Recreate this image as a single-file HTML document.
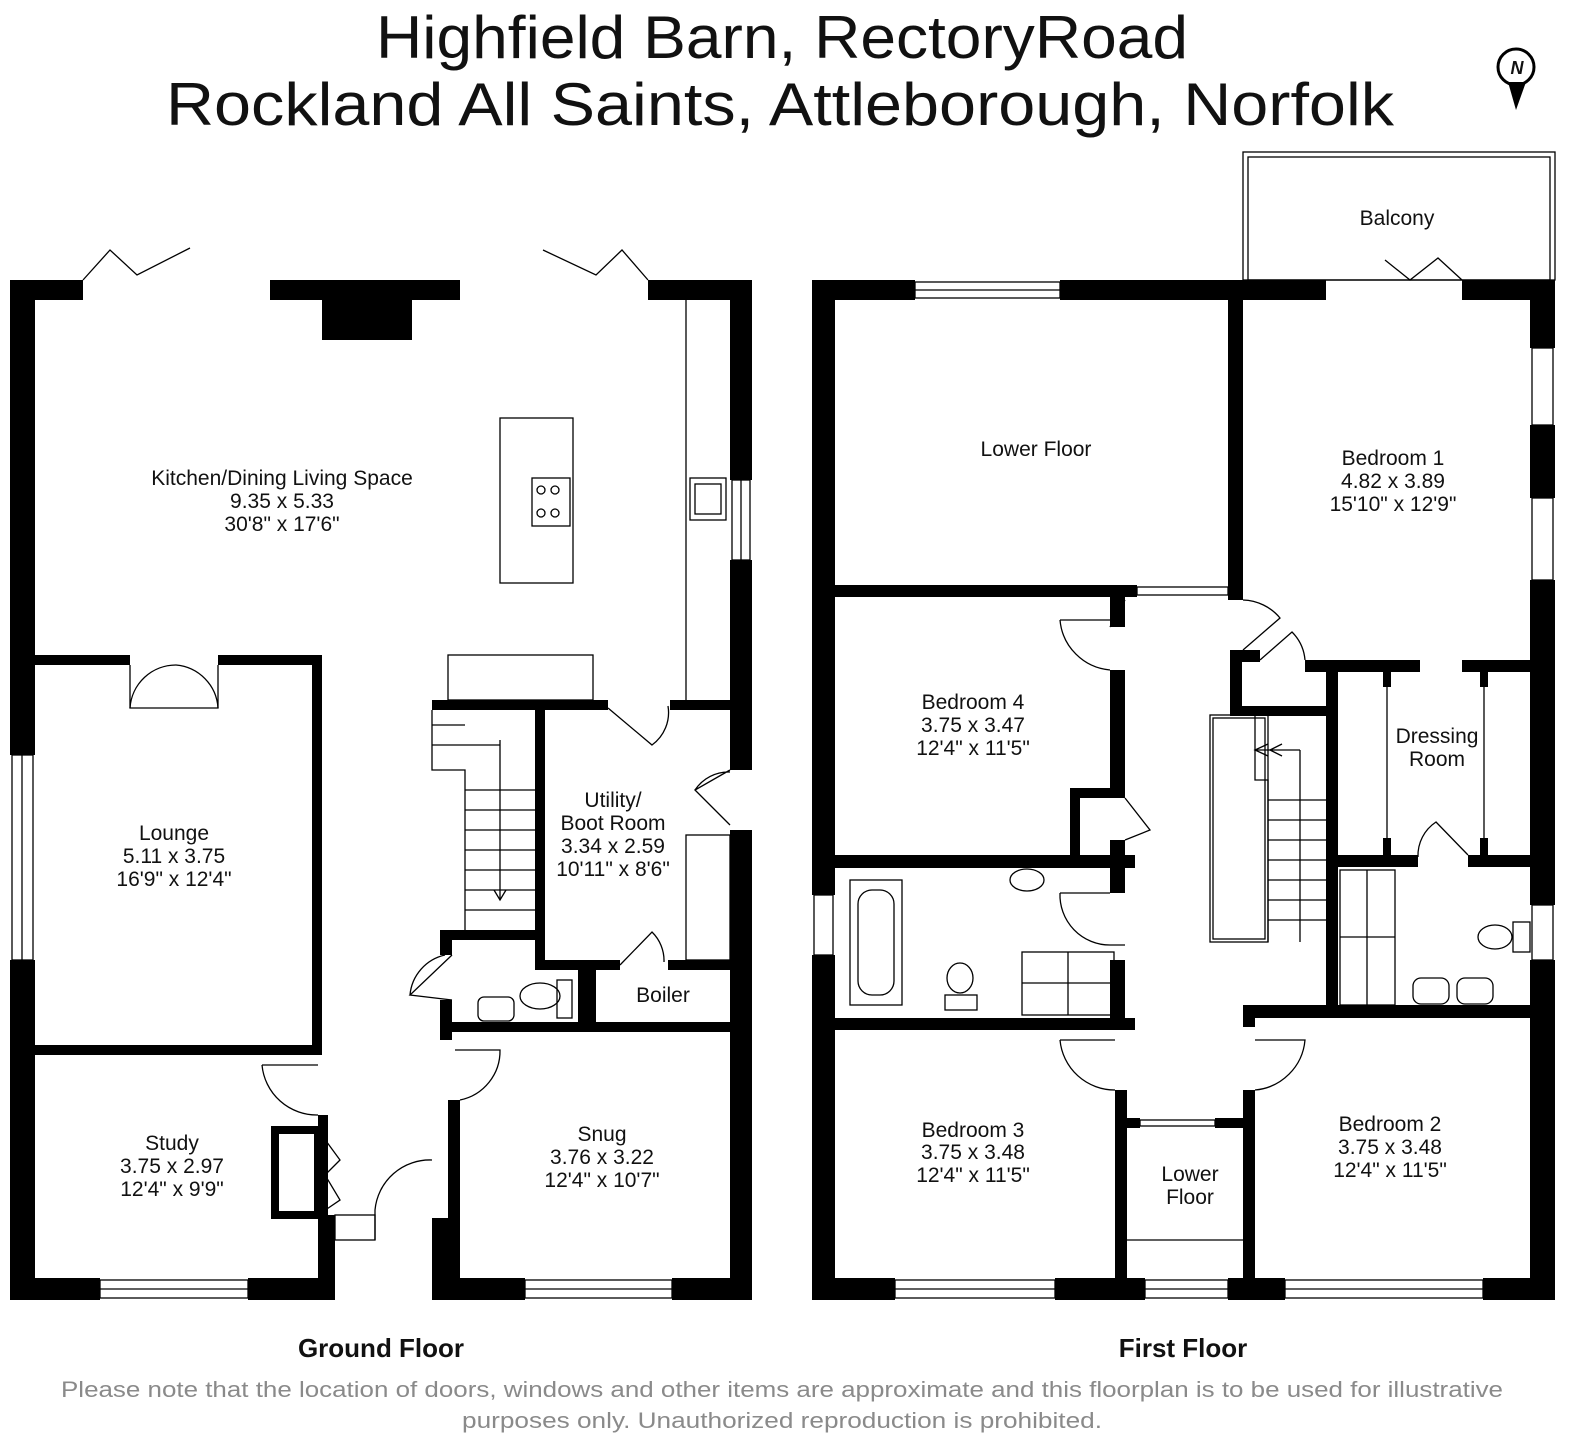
<!DOCTYPE html>
<html><head><meta charset="utf-8"><style>
body{margin:0;background:#fff}
svg{display:block}
text{font-family:"Liberation Sans",sans-serif;text-anchor:middle;fill:#111}
.r{font-size:21px}
</style></head><body>
<svg width="1584" height="1456" viewBox="0 0 1584 1456" xmlns="http://www.w3.org/2000/svg">
<rect width="1584" height="1456" fill="#fff"/>
<text x="782" y="58" font-size="60" textLength="812" lengthAdjust="spacingAndGlyphs">Highfield Barn, RectoryRoad</text>
<text x="780" y="125" font-size="60" textLength="1228" lengthAdjust="spacingAndGlyphs">Rockland All Saints, Attleborough, Norfolk</text>
<circle cx="1516" cy="67" r="18" fill="none" stroke="#000" stroke-width="3"/>
<path d="M1508 82 L1516 110 L1526 82 Z" fill="#000"/>
<text x="1517" y="74" font-size="18" font-weight="bold" font-style="italic">N</text>

<g fill="#000">
<rect x="10" y="280" width="73" height="20"/><rect x="270" y="280" width="190" height="20"/><rect x="322" y="300" width="90" height="40"/><rect x="648" y="280" width="104" height="20"/>
<rect x="10" y="280" width="25" height="475"/><rect x="10" y="960" width="25" height="340"/>
<rect x="730" y="280" width="22" height="200"/><rect x="730" y="560" width="22" height="210"/><rect x="730" y="830" width="22" height="470"/>
<rect x="10" y="1278" width="90" height="22"/><rect x="248" y="1278" width="87" height="22"/><rect x="432" y="1278" width="93" height="22"/><rect x="672" y="1278" width="80" height="22"/>
<rect x="10" y="655" width="120" height="10"/><rect x="218" y="655" width="104" height="10"/><rect x="312" y="655" width="10" height="400"/><rect x="10" y="1045" width="312" height="10"/>
<rect x="318" y="1115" width="10" height="100"/><rect x="318" y="1215" width="17" height="85"/>
<rect x="432" y="700" width="176" height="10"/><rect x="670" y="700" width="82" height="10"/>
<rect x="535" y="700" width="10" height="265"/><rect x="535" y="960" width="85" height="10"/><rect x="668" y="960" width="84" height="10"/>
<rect x="440" y="930" width="95" height="10"/><rect x="440" y="930" width="12" height="25"/><rect x="440" y="1000" width="12" height="40"/>
<rect x="440" y="1022" width="312" height="10"/><rect x="578" y="965" width="18" height="60"/>
<rect x="448" y="1100" width="12" height="180"/><rect x="432" y="1218" width="28" height="62"/>
<rect x="812" y="280" width="103" height="20"/><rect x="1060" y="280" width="266" height="20"/><rect x="1462" y="280" width="93" height="20"/>
<rect x="812" y="280" width="23" height="615"/><rect x="812" y="955" width="23" height="345"/>
<rect x="1530" y="280" width="25" height="68"/><rect x="1530" y="425" width="25" height="73"/><rect x="1530" y="580" width="25" height="325"/><rect x="1530" y="960" width="25" height="340"/>
<rect x="812" y="1278" width="83" height="22"/><rect x="1055" y="1278" width="90" height="22"/><rect x="1228" y="1278" width="57" height="22"/><rect x="1483" y="1278" width="72" height="22"/>
<rect x="1228" y="300" width="15" height="300"/><rect x="812" y="585" width="325" height="12"/><rect x="1228" y="585" width="15" height="12"/>
<rect x="1305" y="660" width="115" height="12"/><rect x="1462" y="660" width="93" height="12"/>
<rect x="1230" y="650" width="30" height="12"/><rect x="1230" y="650" width="12" height="62"/><rect x="1230" y="706" width="108" height="10"/>
<rect x="1326" y="660" width="12" height="350"/>
<rect x="1383" y="672" width="8" height="15"/><rect x="1383" y="838" width="8" height="20"/><rect x="1480" y="672" width="8" height="15"/><rect x="1480" y="838" width="8" height="20"/>
<rect x="1338" y="855" width="80" height="12"/><rect x="1468" y="855" width="87" height="12"/>
<rect x="1243" y="1005" width="312" height="13"/><rect x="1243" y="1005" width="12" height="22"/><rect x="1243" y="1090" width="12" height="190"/>
<rect x="1110" y="597" width="15" height="30"/><rect x="1110" y="670" width="15" height="120"/><rect x="1070" y="788" width="55" height="10"/><rect x="1070" y="788" width="10" height="70"/><rect x="1110" y="840" width="15" height="30"/>
<rect x="812" y="855" width="323" height="13"/><rect x="1110" y="868" width="15" height="25"/><rect x="1110" y="960" width="15" height="60"/>
<rect x="812" y="1018" width="323" height="12"/><rect x="1115" y="1090" width="12" height="190"/>
<rect x="1115" y="1118" width="25" height="10"/><rect x="1215" y="1118" width="28" height="10"/>
</g>

<g fill="none" stroke="#000" stroke-width="1.3">
<rect x="12" y="755" width="21" height="205"/><line x1="22" y1="755" x2="22" y2="960"/>
<rect x="732" y="480" width="18" height="80"/><line x1="741" y1="480" x2="741" y2="560"/>
<rect x="100" y="1280" width="148" height="18"/><line x1="100" y1="1289" x2="248" y2="1289"/>
<rect x="525" y="1280" width="147" height="18"/><line x1="525" y1="1289" x2="672" y2="1289"/>
<rect x="335" y="1215" width="40" height="25"/>
<rect x="915" y="282" width="145" height="16"/><line x1="915" y1="290" x2="1060" y2="290"/>
<rect x="1137" y="587" width="91" height="8"/>
<rect x="814" y="895" width="19" height="60"/>
<rect x="1532" y="348" width="21" height="77"/><rect x="1532" y="498" width="21" height="82"/><rect x="1532" y="905" width="21" height="55"/>
<rect x="895" y="1280" width="160" height="18"/><line x1="895" y1="1289" x2="1055" y2="1289"/>
<rect x="1145" y="1280" width="83" height="18"/><line x1="1145" y1="1289" x2="1228" y2="1289"/>
<rect x="1285" y="1280" width="198" height="18"/><line x1="1285" y1="1289" x2="1483" y2="1289"/>
<rect x="1140" y="1120" width="75" height="6"/>
<rect x="1243" y="152" width="312" height="128"/><rect x="1248" y="157" width="302" height="123"/>
<polyline points="83,280 110,250 137,275 190,248"/><polyline points="543,250 596,275 622,250 648,280"/>
<polyline points="1385,260 1410,280 1438,258 1462,280"/>
<line x1="686" y1="300" x2="686" y2="700"/><rect x="500" y="418" width="73" height="165"/><rect x="532" y="478" width="38" height="48"/>
<circle cx="541" cy="490" r="4"/><circle cx="555" cy="490" r="4"/><circle cx="541" cy="513" r="4"/><circle cx="555" cy="513" r="4"/>
<rect x="690" y="478" width="36" height="42"/><rect x="695" y="484" width="26" height="30"/>
<rect x="448" y="655" width="145" height="45"/>
<polyline points="130,665 130,708 176,708"/><polyline points="218,665 218,708 176,708"/>
<path d="M130 708 A46 46 0 0 1 176 665 A46 46 0 0 1 218 708"/>
<polyline points="432,710 432,770 465,770 465,930"/><line x1="500" y1="740" x2="500" y2="900"/>
<path d="M432 745 H500 M465 790 H535 M465 810 H535 M465 830 H535 M465 850 H535 M465 870 H535 M465 890 H535 M465 910 H535 M432 725 H465"/>
<polyline points="494,890 500,900 506,890"/>
<rect x="686" y="835" width="44" height="125"/>
<path d="M608 708 L652 745 A40 40 0 0 0 668 706"/>
<path d="M730 770 L695 790 L730 825 M695 790 A40 40 0 0 1 730 772"/>
<path d="M620 965 L652 932 A40 40 0 0 1 664 962"/>
<path d="M452 955 L410 995 L452 1000 M410 995 A45 45 0 0 1 445 955"/>
<rect x="478" y="997" width="36" height="24" rx="6"/><ellipse cx="540" cy="996" rx="20" ry="13"/><rect x="557" y="980" width="15" height="38"/>
<path d="M262 1065 A55 55 0 0 0 318 1115 M262 1065 H318"/>
<path d="M455 1050 H500 A50 50 0 0 1 460 1100"/>
<path d="M375 1240 V1210 A55 55 0 0 1 432 1160"/>
<path d="M318 1130 L340 1160 L325 1175 L340 1200 L318 1215"/>
<rect x="275" y="1130" width="43" height="85" stroke-width="8"/>
<path d="M1125 600 L1110 627 M1060 620 A55 55 0 0 0 1110 670 M1060 620 H1110"/>
<path d="M1243 600 A50 50 0 0 1 1280 618 L1243 650"/>
<path d="M1305 660 A45 45 0 0 0 1292 632 L1260 660"/>
<path d="M1125 798 L1150 830 L1125 840"/>
<path d="M1060 893 A50 50 0 0 0 1110 945 H1125 M1060 893 H1110"/>
<path d="M1060 1040 A55 55 0 0 0 1115 1090 M1060 1040 H1115"/>
<path d="M1255 1040 H1305 A55 55 0 0 1 1255 1090"/>
<path d="M1418 857 A40 40 0 0 1 1436 822 L1468 855"/>
<line x1="1387" y1="687" x2="1387" y2="838"/><line x1="1484" y1="687" x2="1484" y2="838"/>
<line x1="1125" y1="1240" x2="1243" y2="1240"/>
<rect x="850" y="880" width="52" height="125"/><rect x="858" y="890" width="36" height="105" rx="14"/>
<ellipse cx="1027" cy="880" rx="17" ry="11"/>
<ellipse cx="960" cy="978" rx="13" ry="15"/><rect x="945" y="995" width="32" height="15"/>
<rect x="1022" y="952" width="92" height="63"/><line x1="1068" y1="952" x2="1068" y2="1015"/><line x1="1022" y1="983" x2="1114" y2="983"/>
<rect x="1210" y="715" width="58" height="227"/><rect x="1213" y="718" width="52" height="221"/>
<polyline points="1255,712 1255,780 1268,780 1268,942"/><line x1="1300" y1="750" x2="1300" y2="942"/>
<path d="M1268 800 H1330 M1268 820 H1330 M1268 840 H1330 M1268 860 H1330 M1268 880 H1330 M1268 900 H1330 M1268 920 H1330 M1255 750 H1300"/>
<polyline points="1268,744 1255,750 1268,756"/><polyline points="1282,744 1270,750 1282,756"/>
<rect x="1340" y="870" width="55" height="135"/><line x1="1367" y1="870" x2="1367" y2="1005"/><line x1="1340" y1="937" x2="1395" y2="937"/>
<ellipse cx="1495" cy="937" rx="17" ry="12"/><rect x="1513" y="922" width="17" height="30"/>
<rect x="1413" y="978" width="36" height="26" rx="8"/><rect x="1457" y="978" width="36" height="26" rx="8"/>
</g>

<g class="r">
<text x="282" y="485">Kitchen/Dining Living Space</text><text x="282" y="508">9.35 x 5.33</text><text x="282" y="531">30'8"  x 17'6"</text>
<text x="174" y="840">Lounge</text><text x="174" y="863">5.11 x 3.75</text><text x="174" y="886">16'9" x 12'4"</text>
<text x="172" y="1150">Study</text><text x="172" y="1173">3.75 x 2.97</text><text x="172" y="1196">12'4" x 9'9"</text>
<text x="602" y="1141">Snug</text><text x="602" y="1164">3.76 x 3.22</text><text x="602" y="1187">12'4" x 10'7"</text>
<text x="613" y="807">Utility/</text><text x="613" y="830">Boot Room</text><text x="613" y="853">3.34 x 2.59</text><text x="613" y="876">10'11" x 8'6"</text>
<text x="663" y="1002">Boiler</text>
<text x="1036" y="456">Lower Floor</text>
<text x="1393" y="465">Bedroom 1</text><text x="1393" y="488">4.82 x 3.89</text><text x="1393" y="511">15'10" x 12'9"</text>
<text x="973" y="709">Bedroom 4</text><text x="973" y="732">3.75 x 3.47</text><text x="973" y="755">12'4" x 11'5"</text>
<text x="1437" y="743">Dressing</text><text x="1437" y="766">Room</text>
<text x="973" y="1137">Bedroom 3</text><text x="973" y="1159">3.75 x 3.48</text><text x="973" y="1182">12'4" x 11'5"</text>
<text x="1190" y="1181">Lower</text><text x="1190" y="1204">Floor</text>
<text x="1390" y="1131">Bedroom 2</text><text x="1390" y="1154">3.75 x 3.48</text><text x="1390" y="1177">12'4" x 11'5"</text>
<text x="1397" y="225">Balcony</text>
</g>
<text x="381" y="1357" font-size="26" font-weight="bold">Ground Floor</text>
<text x="1183" y="1357" font-size="26" font-weight="bold">First Floor</text>
<text x="782" y="1397" font-size="22" style="fill:#8a8a8a" textLength="1442" lengthAdjust="spacingAndGlyphs">Please note that the location of doors, windows and other items are approximate and this floorplan is to be used for illustrative</text>
<text x="782" y="1428" font-size="22" style="fill:#8a8a8a" textLength="640" lengthAdjust="spacingAndGlyphs">purposes only. Unauthorized reproduction is prohibited.</text>
</svg>
</body></html>
